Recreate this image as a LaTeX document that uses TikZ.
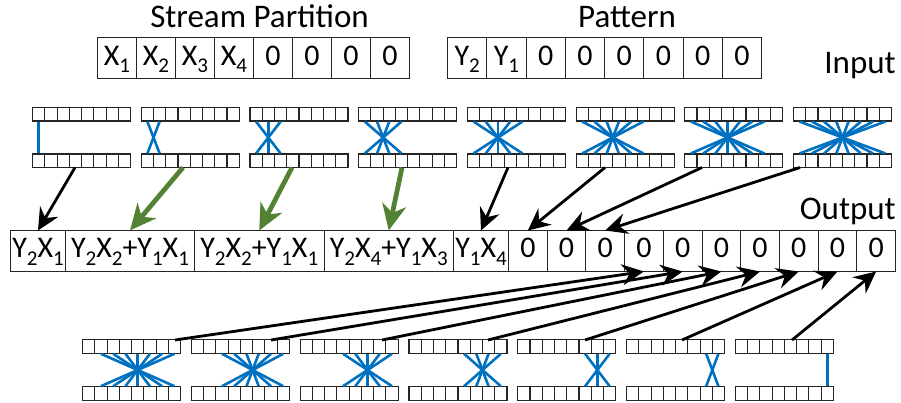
\documentclass[tikz,border=0pt]{standalone}
\usepackage{fontspec}
\setmainfont{Carlito}
\usetikzlibrary{arrows.meta}
\definecolor{wireblue}{RGB}{0,112,192}
\definecolor{leafgreen}{RGB}{84,130,53}
% lowered index digit, as in Y_2 or X_1
\newcommand\ix[1]{\raisebox{-7pt}{\fontsize{21}{21}\selectfont #1}}

\begin{document}
\begin{tikzpicture}[x=1pt,y=-1pt,
  lbl/.style={font=\fontsize{33}{33}\selectfont, inner sep=0pt},
  cell/.style={draw=black!85, line width=1pt, inner sep=0pt, anchor=west,
    minimum width=39pt, minimum height=41pt, text height=23pt, text depth=9pt,
    font=\fontsize{30}{30}\selectfont},
  ocell/.style={cell, minimum height=40pt},
  mini/.style={draw=black!85, line width=1.1pt, inner sep=0pt, anchor=west,
    minimum width=12.25pt, minimum height=13.5pt},
  wire/.style={draw=wireblue, line width=2.6pt},
  blackarrow/.style={draw=black, line width=2.8pt,
    -{Stealth[length=22pt,width=21pt,inset=7.5pt]}},
  greenarrow/.style={draw=leafgreen, line width=4.8pt,
    -{Stealth[length=26pt,width=24pt,inset=8pt]}}
]
\useasboundingbox (0,0) rectangle (901,403);

% titles and side labels
\node[lbl, anchor=base] (sptitle) at (259.5,28) {Stream Partition};
\node[lbl, anchor=base] (pttitle) at (627,28) {Pattern};
\node[lbl, anchor=base east] (inlbl) at (896,74) {Input};
\node[lbl, anchor=base east] (outlbl) at (896,219) {Output};

% stream partition register
\foreach \i/\t in {1/X\ix{1},2/X\ix{2},3/X\ix{3},4/X\ix{4},5/0,6/0,7/0,8/0}
  \node[cell] (s\i) at ({97+(\i-1)*39},58.5) {\t};

% pattern register
\foreach \i/\t in {1/Y\ix{2},2/Y\ix{1},3/0,4/0,5/0,6/0,7/0,8/0}
  \node[cell, minimum width=39.25pt] (p\i) at ({447+(\i-1)*39.25},58.5) {\t};

% output register
\node[ocell, minimum width=55pt]    (o1) at (10,251)  {Y\ix{2}X\ix{1}};
\node[ocell, minimum width=129pt]   (o2) at (65,251)  {Y\ix{2}X\ix{2}+Y\ix{1}X\ix{1}};
\node[ocell, minimum width=129.5pt] (o3) at (194,251) {Y\ix{2}X\ix{2}+Y\ix{1}X\ix{1}};
\node[ocell, minimum width=129.5pt] (o4) at (323.5,251) {Y\ix{2}X\ix{4}+Y\ix{1}X\ix{3}};
\node[ocell, minimum width=55pt]    (o5) at (453,251) {Y\ix{1}X\ix{4}};
\foreach \i in {6,...,15}
  \node[ocell, minimum width=38.7pt] (o\i) at ({508+(\i-6)*38.7},251) {0};

% upper crossbar blocks: k wires reversing the first k lanes
\foreach \k in {1,...,8} {
  \foreach \i in {1,...,8} {
    \node[mini] (ta\k-\i) at ({32+(\k-1)*108.7+(\i-1)*12.25},114.25) {};
    \node[mini] (tb\k-\i) at ({32+(\k-1)*108.7+(\i-1)*12.25},160.75) {};
  }
  \foreach \i in {1,...,\k} {
    \pgfmathtruncatemacro\j{\k+1-\i}
    \draw[wire] (ta\k-\i.south) -- (tb\k-\j.north);
  }
}

% lower crossbar blocks: wires reversing lanes k+1..8
\foreach \k in {1,...,7} {
  \foreach \i in {1,...,8} {
    \node[mini] (ba\k-\i) at ({82+(\k-1)*108.8+(\i-1)*12.25},346.5) {};
    \node[mini] (bb\k-\i) at ({82+(\k-1)*108.8+(\i-1)*12.25},393.5) {};
  }
  \pgfmathtruncatemacro\s{\k+1}
  \foreach \i in {\s,...,8} {
    \pgfmathtruncatemacro\j{\k+9-\i}
    \draw[wire] (ba\k-\i.south) -- (bb\k-\j.north);
  }
}

% arrow origins on the blocks
\coordinate (ts1) at (75,167.5);
\coordinate (ts2) at (183,167.5);
\coordinate (ts3) at (292,167.5);
\coordinate (ts4) at (402,167.5);
\coordinate (ts5) at (508,167.5);
\coordinate (ts6) at (605,167.5);
\coordinate (ts7) at (702,167.5);
\coordinate (ts8) at (800,167.5);
\coordinate (bs1) at (175,340);
\coordinate (bs2) at (271,340);
\coordinate (bs3) at (382,340);
\coordinate (bs4) at (488,340);
\coordinate (bs5) at (585,340);
\coordinate (bs6) at (682,340);
\coordinate (bs7) at (792,340);

% upper blocks feed output cells 1..8
\draw[blackarrow] (ts1) -- (o1.north);
\draw[greenarrow] (ts2) -- (o2.north);
\draw[greenarrow] (ts3) -- (o3.north);
\draw[greenarrow] (ts4) -- (o4.north);
\foreach \k in {5,...,8}
  \draw[blackarrow] (ts\k) -- (o\k.north);

% lower blocks feed output cells 9..15
\foreach \k in {1,...,7} {
  \pgfmathtruncatemacro\t{\k+8}
  \draw[blackarrow] (bs\k) -- (o\t.south);
}
\end{tikzpicture}
\end{document}
